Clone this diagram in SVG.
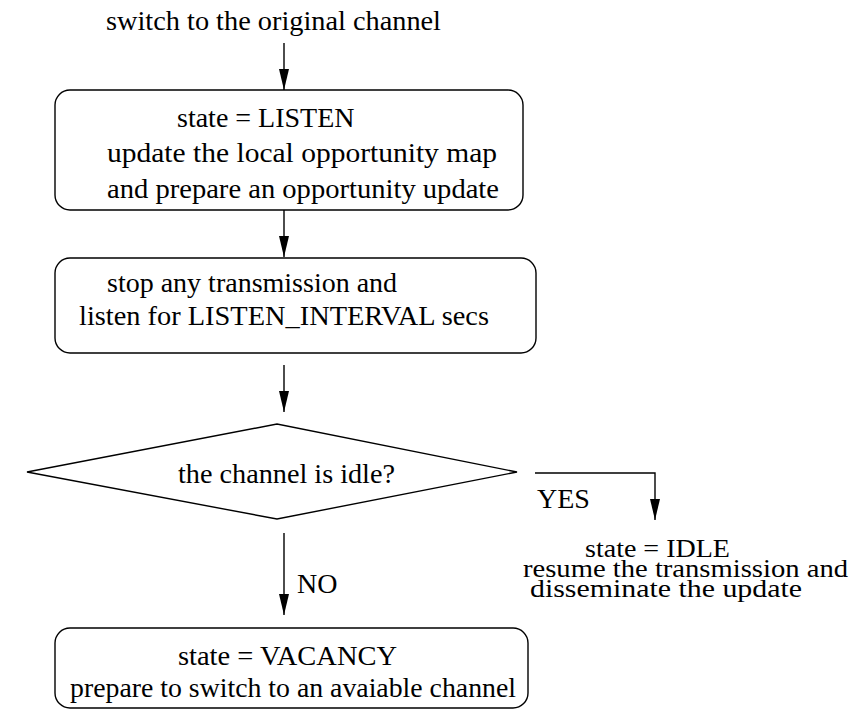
<svg xmlns="http://www.w3.org/2000/svg" width="851" height="719" viewBox="0 0 851 719">
<style>
text{font-family:"Liberation Serif","Times New Roman",serif;font-size:28px;fill:#000}
.sm{font-size:25px}
.box{fill:#fff;stroke:#000;stroke-width:1.4}
.ln{fill:none;stroke:#000;stroke-width:1.4}
</style>
<defs>
<marker id="ah" viewBox="0 0 21 10" refX="21" refY="5" markerWidth="21" markerHeight="10" markerUnits="userSpaceOnUse" orient="auto">
<path d="M0,0 L21,5 L0,10 Z" fill="#000"/>
</marker>
</defs>
<rect width="851" height="719" fill="#fff"/>
<g id="start"><text x="106" y="30" textLength="335" lengthAdjust="spacingAndGlyphs">switch to the original channel</text></g>
<g id="listen">
<rect class="box" x="55" y="90" width="468" height="120" rx="15"/>
<text x="177" y="127">state = LISTEN</text>
<text x="107" y="162" textLength="390" lengthAdjust="spacingAndGlyphs">update the local opportunity map</text>
<text x="107" y="198" textLength="392" lengthAdjust="spacingAndGlyphs">and prepare an opportunity update</text>
</g>
<g id="stop">
<rect class="box" x="55" y="258" width="481" height="95" rx="15"/>
<text x="107" y="292">stop any transmission and</text>
<text x="79" y="325" textLength="410" lengthAdjust="spacingAndGlyphs">listen for LISTEN_INTERVAL secs</text>
</g>
<g id="decision">
<polygon class="box" points="27,472 277,424 517,472 277,519"/>
<text x="178" y="483" textLength="217" lengthAdjust="spacingAndGlyphs">the channel is idle?</text>
</g>
<g id="idle">
<text class="sm" x="585" y="557" textLength="145" lengthAdjust="spacingAndGlyphs">state = IDLE</text>
<text class="sm" x="523" y="577" textLength="325" lengthAdjust="spacingAndGlyphs">resume the transmission and</text>
<text class="sm" x="530" y="597" textLength="272" lengthAdjust="spacingAndGlyphs">disseminate the update</text>
</g>
<g id="vacancy">
<rect class="box" x="55" y="628" width="473" height="80" rx="15"/>
<text x="178" y="665" textLength="219" lengthAdjust="spacingAndGlyphs">state = VACANCY</text>
<text x="70" y="697" textLength="446" lengthAdjust="spacingAndGlyphs">prepare to switch to an avaiable channel</text>
</g>
<g id="connectors">
<line class="ln" x1="284" y1="43" x2="284" y2="90" marker-end="url(#ah)"/>
<line class="ln" x1="284" y1="210" x2="284" y2="257" marker-end="url(#ah)"/>
<line class="ln" x1="284" y1="365" x2="284" y2="412" marker-end="url(#ah)"/>
<polyline class="ln" points="535,473 655,473 655,520" marker-end="url(#ah)"/>
<line class="ln" x1="284" y1="533" x2="284" y2="615" marker-end="url(#ah)"/>
<text x="537" y="508">YES</text>
<text x="297" y="593">NO</text>
</g>
</svg>
